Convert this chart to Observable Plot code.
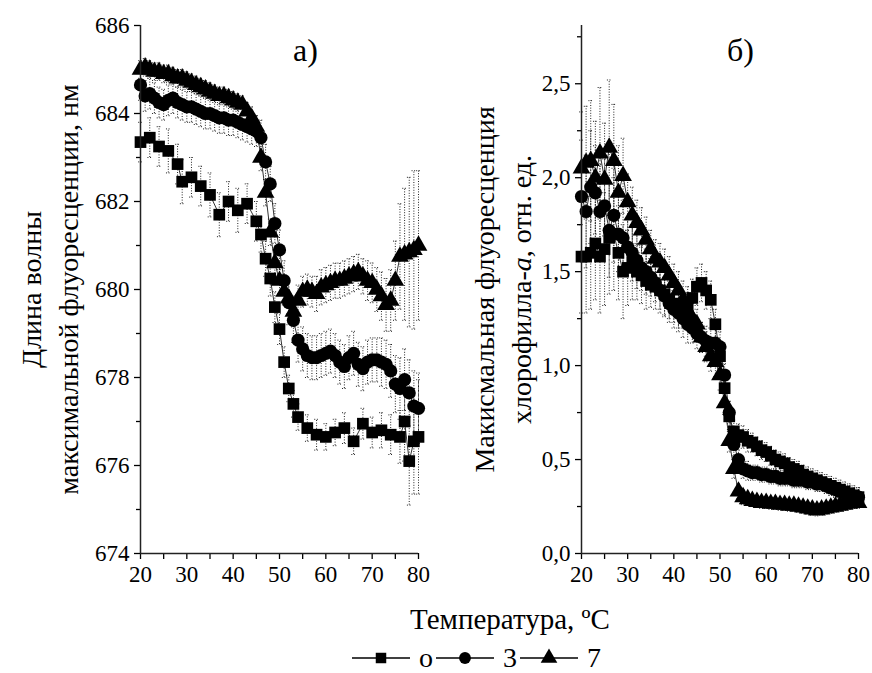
<!DOCTYPE html>
<html><head><meta charset="utf-8">
<script src="https://cdn.jsdelivr.net/npm/d3@7"></script>
<script src="https://cdn.jsdelivr.net/npm/@observablehq/plot@0.6"></script>
<style>
body{margin:0;background:#fff;font-family:"Liberation Serif","Times New Roman","DejaVu Serif",serif;color:#000;}
#wrap{width:872px;height:673px;position:relative;overflow:hidden;}
#plots{display:flex;position:absolute;left:0;top:0;}
#xtitle{position:absolute;top:601px;left:510px;transform:translateX(-50%);font-size:29px;white-space:nowrap;line-height:36px;}
#legend{position:absolute;top:645px;left:478px;transform:translateX(-50%);display:flex;align-items:center;font-size:28px;white-space:nowrap;line-height:26px;}
#legend .it{display:flex;align-items:center;}
#legend svg{display:block;}
#legend span{margin:0 3px 0 9px;}
svg text{font-family:"Liberation Serif","Times New Roman","DejaVu Serif",serif;}
</style></head>
<body><div id="wrap"><div id="plots"></div><div id="xtitle">Температура, ºС</div><div id="legend"></div></div>
<script>
// ---------- data ----------
const seriesNames = ["0", "3", "7"];
const xTicks = [20, 30, 40, 50, 60, 70, 80];
const xMinorTicks = [25, 35, 45, 55, 65, 75];
const leftYTicks = [674, 676, 678, 680, 682, 684, 686];
const leftYMinor = [675, 677, 679, 681, 683, 685];
const rightYTicks = [0, 0.5, 1.0, 1.5, 2.0, 2.5];
const rightYMinor = [0.25, 0.75, 1.25, 1.75, 2.25, 2.75];

const temps = [20,21,22,23,24,25,26,27,28,29,
  30,31,32,33,34,35,36,37,38,39,
  40,41,42,43,44,45,46,47,48,49,
  50,51,52,53,54,55,56,57,58,59,
  60,61,62,63,64,65,66,67,68,69,
  70,71,72,73,74,75,76,77,78,79,
  80];

// left panel (а): wavelength of max fluorescence, nm
const leftTemp0 = [20,22,24,26,28,29,31,33,35,37, 39,41,43,45,46,47,48,49,50,51,
  52,53,54,56,58,60,62,64,66,68, 70,72,74,76,77,78,79,80];
const leftWave0 = [683.35,683.45,683.25,683.15,682.85,682.45,682.55,682.35,682.15,681.7,
  682.0,681.8,681.95,681.55,681.25,680.7,680.25,679.6,679.1,678.35,
  677.75,677.4,677.1,676.85,676.7,676.65,676.75,676.85,676.55,676.95,
  676.75,676.8,676.7,676.65,677.0,676.1,676.55,676.65];
const leftErr0 = [0.45,0.45,0.45,0.5,0.45,0.5,0.45,0.45,0.5,0.5,
  0.45,0.5,0.45,0.45,0.4,0.4,0.4,0.35,0.35,0.35,
  0.3,0.3,0.3,0.3,0.35,0.3,0.3,0.35,0.3,0.35,
  0.35,0.4,0.45,0.6,0.9,1.0,1.2,1.3];
const leftWave3 = [684.65,684.4,684.45,684.35,684.25,684.2,684.3,684.35,684.25,684.2,
  684.15,684.15,684.1,684.05,684.0,684.0,683.95,683.9,683.9,683.85,
  683.85,683.8,683.75,683.7,683.65,683.6,683.45,682.9,682.4,681.5,
  680.9,680.2,679.7,679.3,678.85,678.65,678.5,678.45,678.45,678.5,
  678.55,678.6,678.5,678.35,678.25,678.45,678.55,678.3,678.2,678.35,
  678.4,678.4,678.35,678.3,678.15,677.85,677.75,677.95,677.65,677.35,
  677.3];
const leftErr3 = [0.35,0.35,0.35,0.35,0.35,0.35,0.35,0.35,0.35,0.35,
  0.35,0.35,0.35,0.35,0.35,0.35,0.35,0.35,0.35,0.35,
  0.35,0.35,0.35,0.35,0.35,0.35,0.4,0.4,0.4,0.45,
  0.45,0.45,0.5,0.5,0.5,0.5,0.5,0.5,0.5,0.5,
  0.5,0.5,0.5,0.5,0.5,0.5,0.5,0.5,0.5,0.5,
  0.5,0.5,0.55,0.55,0.6,0.65,0.7,0.7,0.75,0.8,
  0.8];
const leftWave7 = [685.0,685.05,685.0,684.95,684.95,684.9,684.9,684.85,684.8,684.8,
  684.75,684.7,684.65,684.6,684.55,684.5,684.45,684.4,684.4,684.35,
  684.3,684.25,684.2,684.05,683.9,683.7,683.0,682.2,681.3,680.6,
  680.2,679.95,679.8,679.5,679.75,679.95,680.0,679.95,679.9,680.05,
  680.1,680.15,680.2,680.2,680.25,680.3,680.35,680.4,680.3,680.2,
  680.15,680.0,679.85,679.65,679.75,680.2,680.75,680.8,680.85,680.9,
  681.0];
const leftErr7 = [0.2,0.2,0.2,0.2,0.2,0.2,0.2,0.2,0.2,0.2,
  0.2,0.2,0.2,0.2,0.2,0.2,0.2,0.2,0.2,0.2,
  0.2,0.2,0.2,0.2,0.25,0.25,0.3,0.3,0.3,0.3,
  0.3,0.3,0.35,0.35,0.35,0.35,0.35,0.35,0.4,0.4,
  0.4,0.4,0.4,0.4,0.4,0.4,0.4,0.4,0.4,0.45,
  0.45,0.5,0.55,0.6,0.7,0.9,1.2,1.5,1.7,1.8,
  1.7];

// right panel (б): max chlorophyll-a fluorescence, rel. units
const rightFl0 = [1.58,1.58,1.6,1.65,1.58,1.62,1.68,1.7,1.6,1.5,
  1.52,1.55,1.5,1.48,1.45,1.43,1.42,1.4,1.38,1.35,
  1.33,1.3,1.3,1.32,1.36,1.42,1.44,1.4,1.35,1.22,
  1.05,0.88,0.73,0.65,0.63,0.62,0.6,0.59,0.57,0.55,
  0.54,0.52,0.5,0.49,0.48,0.46,0.45,0.44,0.42,0.41,
  0.4,0.39,0.38,0.37,0.36,0.35,0.34,0.33,0.32,0.31,
  0.3];
const rightErr0 = [0.3,0.3,0.3,0.3,0.3,0.3,0.3,0.3,0.25,0.25,
  0.2,0.2,0.15,0.15,0.15,0.12,0.12,0.12,0.12,0.1,
  0.1,0.1,0.1,0.1,0.1,0.1,0.1,0.1,0.1,0.08,
  0.08,0.08,0.08,0.06,0.06,0.06,0.06,0.05,0.05,0.05,
  0.05,0.05,0.05,0.05,0.05,0.05,0.05,0.05,0.05,0.05,
  0.05,0.05,0.05,0.05,0.05,0.05,0.05,0.05,0.05,0.05,
  0.05];
const rightFl3 = [1.9,1.82,1.95,1.92,1.82,1.85,1.72,1.8,1.7,1.68,
  1.63,1.6,1.56,1.52,1.5,1.47,1.44,1.4,1.37,1.33,
  1.3,1.28,1.25,1.22,1.2,1.17,1.15,1.13,1.12,1.12,
  1.1,0.95,0.75,0.58,0.5,0.45,0.44,0.43,0.43,0.42,
  0.42,0.41,0.41,0.4,0.4,0.4,0.39,0.39,0.39,0.38,
  0.38,0.37,0.37,0.36,0.35,0.34,0.33,0.32,0.31,0.3,
  0.3];
const rightErr3 = [0.3,0.3,0.3,0.25,0.25,0.25,0.25,0.25,0.2,0.2,
  0.15,0.15,0.15,0.12,0.12,0.1,0.1,0.1,0.1,0.1,
  0.1,0.1,0.1,0.1,0.08,0.08,0.08,0.08,0.08,0.08,
  0.08,0.06,0.06,0.06,0.05,0.05,0.05,0.04,0.04,0.04,
  0.04,0.04,0.04,0.04,0.04,0.04,0.04,0.04,0.04,0.04,
  0.04,0.04,0.04,0.04,0.04,0.04,0.04,0.04,0.05,0.05,
  0.05];
const rightFl7 = [2.05,2.08,2.09,2.0,2.13,1.99,2.16,2.09,1.92,2.01,
  1.87,1.8,1.76,1.72,1.67,1.62,1.57,1.55,1.52,1.48,
  1.44,1.4,1.35,1.29,1.25,1.22,1.15,1.1,1.05,1.02,
  0.95,0.8,0.6,0.45,0.33,0.3,0.29,0.28,0.275,0.27,
  0.27,0.265,0.265,0.26,0.26,0.255,0.255,0.25,0.245,0.24,
  0.235,0.23,0.235,0.24,0.245,0.25,0.255,0.26,0.265,0.27,
  0.27];
const rightErr7 = [0.3,0.3,0.32,0.3,0.35,0.3,0.36,0.3,0.25,0.2,
  0.15,0.15,0.12,0.12,0.12,0.1,0.1,0.1,0.1,0.1,
  0.1,0.1,0.1,0.1,0.08,0.08,0.08,0.08,0.08,0.08,
  0.08,0.06,0.06,0.05,0.04,0.04,0.03,0.03,0.03,0.03,
  0.03,0.03,0.03,0.03,0.03,0.03,0.03,0.03,0.03,0.03,
  0.03,0.03,0.03,0.03,0.03,0.03,0.03,0.03,0.03,0.03,
  0.03];

const leftLabel = "Длина волны\nмаксимальной флуоресценции, нм";
const rightLabel = "Макисмальная флуоресценция\nхлорофилла-a, отн. ед.";

// ---------- build ----------
function rows(ts, vs, es, s) { return ts.map((t, i) => ({T: t, v: vs[i], e: es[i], series: s})); }
const leftData = [...rows(leftTemp0, leftWave0, leftErr0, "0"), ...rows(temps, leftWave3, leftErr3, "3"), ...rows(temps, leftWave7, leftErr7, "7")];
const rightData = [...rows(temps, rightFl0, rightErr0, "0"), ...rows(temps, rightFl3, rightErr3, "3"), ...rows(temps, rightFl7, rightErr7, "7")];

const FONT = '"Liberation Serif", "Times New Roman", "DejaVu Serif", serif';

function panel({data, yDomain, yMajor, yMinor, yFmt, label, letter, width, marginLeft, marginRight, labelDx, letterDx}) {
  const xDomain = [xTicks[0], xTicks[xTicks.length - 1]];
  const dash = {stroke: "#222", strokeWidth: 1, strokeDasharray: "1,1.6"};
  return Plot.plot({
    width, height: 600, marginLeft, marginRight, marginTop: 25, marginBottom: 47,
    style: {fontFamily: FONT, fontSize: "23px", color: "#000", background: "transparent", overflow: "visible"},
    x: {domain: xDomain},
    y: {domain: yDomain},
    symbol: {domain: seriesNames, range: ["square", "circle", "triangle"]},
    marks: [
      Plot.ruleX(data, {x: "T", y1: d => d.v - d.e, y2: d => d.v + d.e, ...dash}),
      Plot.link(data, {x1: d => d.T - 0.5, x2: d => d.T + 0.5, y1: d => d.v + d.e, y2: d => d.v + d.e, ...dash}),
      Plot.link(data, {x1: d => d.T - 0.5, x2: d => d.T + 0.5, y1: d => d.v - d.e, y2: d => d.v - d.e, ...dash}),
      Plot.line(data, {x: "T", y: "v", z: "series", stroke: "#000", strokeWidth: 0.8}),
      Plot.dot(data, {x: "T", y: "v", symbol: "series", fill: "#000", stroke: "none", r: 6.6}),
      Plot.axisX(xTicks, {tickSize: 6, tickPadding: 6, label: null, strokeWidth: 1.3, fontFamily: FONT}),
      Plot.axisX(xMinorTicks, {tickSize: 6, tickFormat: () => "", label: null, strokeWidth: 1.3}),
      Plot.axisY(yMajor, {tickSize: 6, tickPadding: 5, tickFormat: yFmt, label: null, strokeWidth: 1.3, fontFamily: FONT}),
      Plot.axisY(yMinor, {tickSize: 4, tickFormat: () => "", label: null, strokeWidth: 1.3}),
      Plot.ruleX([xDomain[0]], {stroke: "#222", strokeWidth: 1.5}),
      Plot.ruleY([yDomain[0]], {stroke: "#222", strokeWidth: 1.5}),
      Plot.text([label], {text: d => d, frameAnchor: "left", rotate: -90, dx: labelDx, fontSize: 28, fontFamily: FONT, lineAnchor: "middle", textAnchor: "middle", lineHeight: 1.35}),
      Plot.text([letter], {text: d => d, frameAnchor: "top-right", dx: letterDx, dy: 25, fontSize: 32, fontFamily: FONT, textAnchor: "middle", lineAnchor: "middle"})
    ]
  });
}

const left = panel({data: leftData, yDomain: [leftYTicks[0], leftYTicks[leftYTicks.length - 1]], yMajor: leftYTicks, yMinor: leftYMinor,
  yFmt: d => String(d), label: leftLabel, letter: "а)", width: 440, marginLeft: 140, marginRight: 22, labelDx: -93, letterDx: -113});
const right = panel({data: rightData, yDomain: [0, 2.81], yMajor: rightYTicks, yMinor: rightYMinor,
  yFmt: d => d.toFixed(1).replace(".", ","), label: rightLabel, letter: "б)", width: 432, marginLeft: 141, marginRight: 14, labelDx: -81, letterDx: -118});

document.getElementById("plots").append(left, right);

// italic "a" in chlorophyll-a
right.querySelectorAll("tspan").forEach(t => {
  if (t.textContent.startsWith("хлорофилла-a")) {
    t.textContent = "";
    const ns = "http://www.w3.org/2000/svg";
    const a = document.createElementNS(ns, "tspan"); a.textContent = "хлорофилла-";
    const b = document.createElementNS(ns, "tspan"); b.textContent = "a"; b.setAttribute("font-style", "italic");
    const c = document.createElementNS(ns, "tspan"); c.textContent = ", отн. ед.";
    t.append(a, b, c);
  }
});

// legend
const legend = document.getElementById("legend");
const symPaths = {"0": d3.symbol(d3.symbolSquare, 110)(), "3": d3.symbol(d3.symbolCircle, 110)(), "7": d3.symbol(d3.symbolTriangle, 120)()};
seriesNames.forEach(s => {
  const it = document.createElement("div"); it.className = "it";
  it.innerHTML = `<svg width="58" height="20" viewBox="0 0 58 20"><line x1="0" x2="58" y1="10" y2="10" stroke="#000" stroke-width="1.3"/><path transform="translate(29,10)" d="${symPaths[s]}" fill="#000"/></svg><span>${s === "0" ? "о" : s}</span>`;
  legend.append(it);
});
</script></body></html>
